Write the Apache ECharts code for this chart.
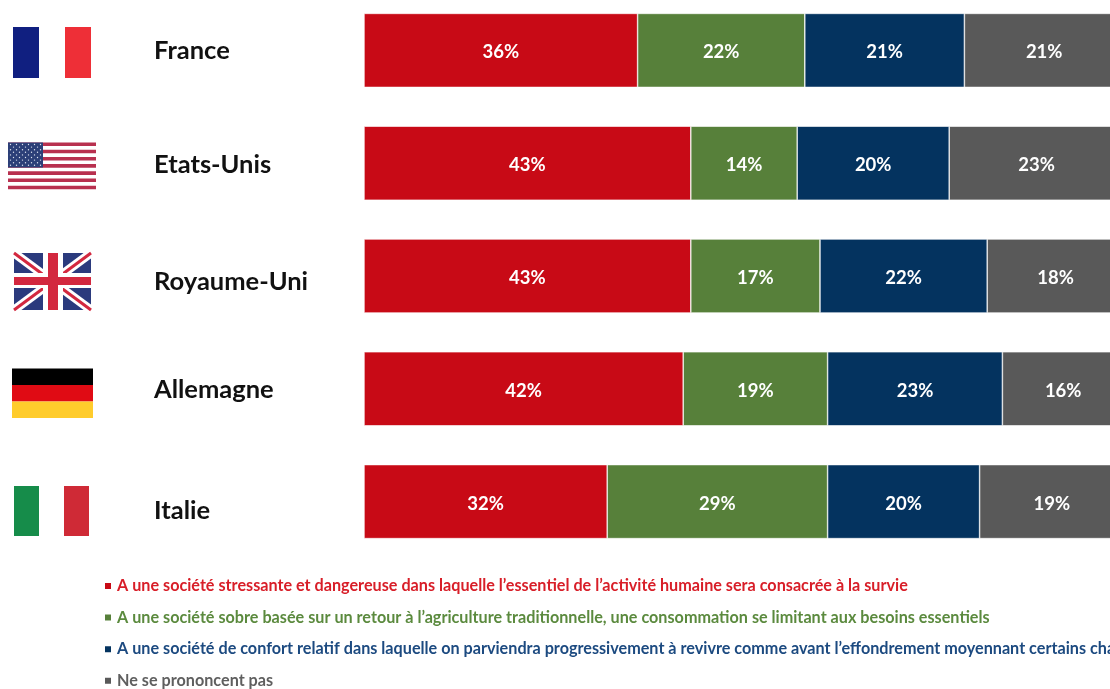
<!DOCTYPE html>
<html>
<head>
<meta charset="utf-8">
<style>
html, body { margin: 0; padding: 0; background: #fff; }
#main { width: 1110px; height: 689px; filter: blur(0.5px); }
</style>
<script src="https://cdn.jsdelivr.net/npm/echarts@6/dist/echarts.min.js"></script>
</head>
<body>
<div id="main"></div>
<script>
var countries = ['France', 'Etats-Unis', 'Royaume-Uni', 'Allemagne', 'Italie'];
var stressante = [36, 43, 43, 42, 32];
var sobre = [22, 14, 17, 19, 29];
var confort = [21, 20, 22, 23, 20];
var nsp = [21, 23, 18, 16, 19];

var seriesNames = [
    'A une société stressante et dangereuse dans laquelle l’essentiel de l’activité humaine sera consacrée à la survie',
    'A une société sobre basée sur un retour à l’agriculture traditionnelle, une consommation se limitant aux besoins essentiels',
    'A une société de confort relatif dans laquelle on parviendra progressivement à revivre comme avant l’effondrement moyennant certains changements',
    'Ne se prononcent pas'
];
var seriesValues = [stressante, sobre, confort, nsp];
var seriesColors = ['#c80a16', '#57803a', '#04335f', '#595959'];
var legendColors = ['#d81e28', '#5b8a3e', '#1c4a80', '#5f5f5f'];

// decalage vertical des noms de pays
var labelShift = [0, 2, 6, 1, 9];

var chart = echarts.init(document.getElementById('main'));

function rect(x, y, w, h, color) {
    return { type: 'rect', shape: { x: x, y: y, width: w, height: h }, style: { fill: color }, silent: true };
}

function line(x1, y1, x2, y2, color, width) {
    return { type: 'line', shape: { x1: x1, y1: y1, x2: x2, y2: y2 }, style: { stroke: color, lineWidth: width }, silent: true };
}

// drapeaux
var flags = [];

// France
flags.push(rect(13, 27, 26, 51, '#101f80'));
flags.push(rect(65, 27, 26, 51, '#ee2f37'));

// Etats-Unis
for (var i = 0; i < 7; i++) {
    flags.push(rect(8, 142.5 + i * 7.2, 88, 3.6, '#b8304f'));
}
flags.push(rect(8, 142.5, 35, 25, '#2c3f78'));
for (var r = 0; r < 9; r++) {
    for (var c = 0; c < (r % 2 ? 5 : 6); c++) {
        flags.push({
            type: 'circle',
            shape: { cx: (r % 2 ? 13.5 : 10.5) + c * 6, cy: 144.5 + r * 2.6, r: 0.7 },
            style: { fill: '#dfe3ef' },
            silent: true
        });
    }
}

// Royaume-Uni
flags.push(rect(14, 253, 77, 57, '#2b3a7d'));
flags.push(line(14, 253, 91, 310, '#fff', 9));
flags.push(line(91, 253, 14, 310, '#fff', 9));
flags.push(line(14, 253, 91, 310, '#d3283f', 3));
flags.push(line(91, 253, 14, 310, '#d3283f', 3));
flags.push(rect(43, 253, 20, 57, '#fff'));
flags.push(rect(14, 273, 77, 15, '#fff'));
flags.push(rect(48, 253, 10, 57, '#d3283f'));
flags.push(rect(14, 277, 77, 8, '#d3283f'));

// Allemagne
flags.push(rect(12, 368.5, 81, 16.5, '#000'));
flags.push(rect(12, 385, 81, 16.5, '#e00b14'));
flags.push(rect(12, 401.5, 81, 16.5, '#ffcc2c'));

// Italie
flags.push(rect(14, 486, 25, 50, '#168c4a'));
flags.push(rect(64, 486, 25, 50, '#cf2a36'));

var series = [];
for (var s = 0; s < seriesValues.length; s++) {
    series.push({
        name: seriesNames[s],
        type: 'bar',
        stack: 'total',
        barWidth: 74,
        data: seriesValues[s],
        itemStyle: {
            color: seriesColors[s],
            borderColor: '#fff',
            borderWidth: 0.6
        },
        label: {
            show: true,
            position: 'inside',
            offset: [0, 2],
            formatter: '{c}%',
            color: '#fff',
            fontFamily: 'Lato',
            fontWeight: 'bold',
            fontSize: 18.5
        }
    });
}

// un style rich par pays pour le decalage vertical
var labelRich = {};
labelShift.forEach(function(shift, idx) {
    labelRich['p' + idx] = {
        padding: [shift * 2, 0, 0, 0],
        color: '#111',
        fontFamily: 'Lato',
        fontWeight: 'bold',
        fontSize: 25.5
    };
});

var option = {
    animation: false,
    backgroundColor: '#fff',
    grid: {
        left: 364,
        top: -6,
        width: 760,
        height: 564,
        outerBoundsMode: 'none'
    },
    legend: {
        orient: 'vertical',
        left: 103,
        top: 578,
        height: 120,
        padding: 0,
        itemWidth: 8,
        itemHeight: 8,
        itemGap: 15.6,
        icon: 'rect',
        selectedMode: false,
        data: seriesNames.map(function(name, idx) {
            return { name: name, textStyle: { color: legendColors[idx] } };
        }),
        textStyle: {
            fontFamily: 'Lato',
            fontWeight: 'bold',
            fontSize: 16.2,
            lineHeight: 16
        }
    },
    xAxis: {
        type: 'value',
        min: 0,
        max: 100,
        show: false
    },
    yAxis: {
        type: 'category',
        inverse: true,
        data: countries,
        axisLine: { show: false },
        axisTick: { show: false },
        axisLabel: {
            align: 'left',
            margin: 210,
            rich: labelRich,
            formatter: function(value, idx) {
                return '{p' + idx + '|' + value + '}';
            }
        }
    },
    graphic: flags,
    series: series
};

chart.setOption(option);
</script>
</body>
</html>
